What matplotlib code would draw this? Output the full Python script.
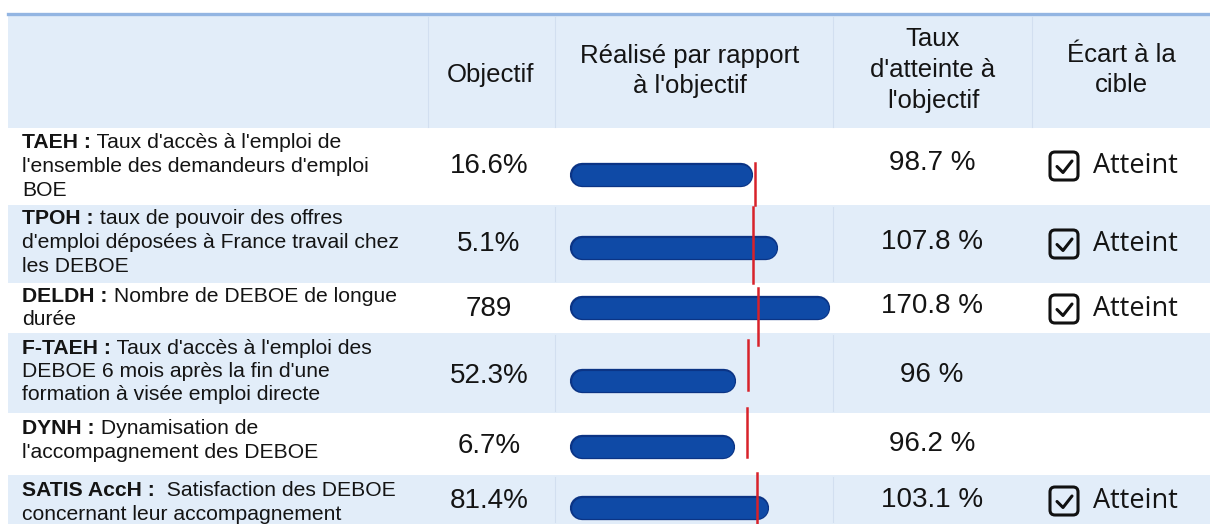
import matplotlib.pyplot as plt
from matplotlib.patches import Rectangle, FancyBboxPatch

# ---- data ----
headers = ["Objectif", "Réalisé par rapport\nà l'objectif", "Taux\nd'atteinte à\nl'objectif",
           "Écart à la\ncible"]
codes = ["TAEH :", "TPOH :", "DELDH :", "F-TAEH :", "DYNH :", "SATIS AccH :"]
first_lines = [" Taux d'accès à l'emploi de", " taux de pouvoir des offres",
               " Nombre de DEBOE de longue", " Taux d'accès à l'emploi des",
               " Dynamisation de", "  Satisfaction des DEBOE"]
other_lines = [["l'ensemble des demandeurs d'emploi", "BOE"],
               ["d'emploi déposées à France travail chez", "les DEBOE"],
               ["durée"],
               ["DEBOE 6 mois après la fin d'une", "formation à visée emploi directe"],
               ["l'accompagnement des DEBOE"],
               ["concernant leur accompagnement"]]
objectifs = ["16.6%", "5.1%", "789", "52.3%", "6.7%", "81.4%"]
taux = ["98.7 %", "107.8 %", "170.8 %", "96 %", "96.2 %", "103.1 %"]
ecart = ["Atteint", "Atteint", "Atteint", "", "", "Atteint"]
# bar length as drawn (target = 1.0) and target marker position
bar_values = [0.978, 1.114, 1.395, 0.886, 0.881, 1.065]
target_values = [0.995, 0.984, 1.011, 0.957, 0.951, 1.005]

# ---- layout (pixels) ----
W, H = 1210, 524
row_top = [128, 205, 283, 333, 413, 475]
row_bot = [205, 283, 333, 413, 475, 524]
row_shaded = [False, True, False, True, False, True]
label_y0 = [143, 219, 296, 348, 429, 491]
val_y = [166, 244, 309, 376, 446, 501]
taux_y = [163, 242, 306, 375, 444, 500]
bar_y = [175, 248, 308, 381, 447, 508]
target_span = [(163, 205), (207, 283), (288, 345), (340, 390), (408, 457), (473, 524)]
col_div = [428, 555, 833, 1032]

BLUE_BG = "#e2edf9"
TXT = "#141414"

fig = plt.figure(figsize=(W / 100, H / 100), dpi=100)
ax = fig.add_axes([0, 0, 1, 1])
ax.set_xlim(0, W)
ax.set_ylim(H, 0)
ax.axis("off")

# header
ax.add_patch(Rectangle((8, 15), W - 8, 113, color=BLUE_BG, lw=0, zorder=0))
ax.plot([8, W], [14, 14], color="#93b5e2", lw=2.4, zorder=1)
for x in col_div:
    ax.plot([x, x], [17, 127], color="#d2dff0", lw=0.8, zorder=1)

# row bands
for i in range(len(codes)):
    if row_shaded[i]:
        ax.add_patch(Rectangle((8, row_top[i]), W - 8, row_bot[i] - row_top[i],
                               color=BLUE_BG, lw=0, zorder=0))
        for x in col_div[1:3]:
            ax.plot([x, x], [row_top[i] + 2, row_bot[i] - 2], color="#d2dff0", lw=0.8, zorder=1)

hfont = dict(family="Liberation Sans", size=18.5, color=TXT, ha="center", va="center",
             linespacing=1.35)
ax.text(491, 75, headers[0], **hfont)
ax.text(690, 71, headers[1], **hfont)
ax.text(933, 70, headers[2], **hfont)
ax.text(1121, 70, headers[3], **hfont)

fig.canvas.draw()
renderer = fig.canvas.get_renderer()
inv = ax.transData.inverted()

lfont = dict(family="Liberation Sans", size=15.2, color=TXT, va="center")
for i in range(len(codes)):
    t = ax.text(22, label_y0[i], codes[i], fontweight="bold", **lfont)
    bb = t.get_window_extent(renderer)
    x_end = inv.transform((bb.x1, bb.y0))[0]
    ax.text(x_end, label_y0[i], first_lines[i], **lfont)
    for j, line in enumerate(other_lines[i]):
        ax.text(22, label_y0[i] + 23.5 * (j + 1), line, **lfont)

vfont = dict(family="Liberation Sans", size=20, color=TXT, ha="center", va="center")
for i in range(len(codes)):
    ax.text(489, val_y[i], objectifs[i], **vfont)
    ax.text(932, taux_y[i], taux[i], **vfont)
    if ecart[i]:
        cy = val_y[i]
        ax.add_patch(FancyBboxPatch((1050, cy - 14), 28, 28,
                                    boxstyle="round,pad=0,rounding_size=5",
                                    fc="none", ec="#111111", lw=2.2, zorder=3))
        ax.plot([1057, 1063, 1072], [cy + 0.5, cy + 6.5, cy - 5], color="#111111", lw=2.2,
                solid_capstyle="round", solid_joinstyle="round", zorder=3)
        ax.text(1093, cy, ecart[i], family="Open Sans", size=19.5, color=TXT, va="center")

# bars in their own axes over the "Réalisé" column
x0_px, unit_px = 571, 185
bx = fig.add_axes([555 / W, 0, (833 - 555) / W, 1])
bx.set_xlim((555 - x0_px) / unit_px, (833 - x0_px) / unit_px)
bx.set_ylim(H, 0)
bx.axis("off")
bx.patch.set_alpha(0)
half = 11 / unit_px
for i in range(len(codes)):
    bx.plot([half, bar_values[i] - half], [bar_y[i], bar_y[i]], color="#0b3485",
            lw=17.5, solid_capstyle="round", zorder=2)
    bx.plot([half, bar_values[i] - half], [bar_y[i], bar_y[i]], color="#0f4aa6",
            lw=15.0, solid_capstyle="round", zorder=3)
    bx.plot([target_values[i], target_values[i]], list(target_span[i]), color="#d8222a",
            lw=1.8, zorder=4)

fig.savefig("out.png", dpi=100)
